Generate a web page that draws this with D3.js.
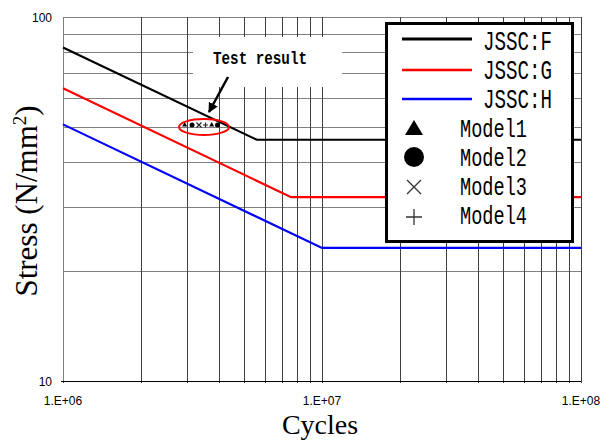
<!DOCTYPE html>
<html><head><meta charset="utf-8">
<script src="https://cdn.jsdelivr.net/npm/d3@7"></script>
<style>body{margin:0;background:#fff}svg{display:block}</style>
</head><body>
<script>
// ---- data ----
const seriesNames = ["JSSC:F", "JSSC:G", "JSSC:H"];
const seriesColors = ["#000000", "#ff0000", "#0000ff"];
const fCycles = [1e6, 5.6e6, 1e8];
const fStress = [82.5, 46, 46];
const gCycles = [1e6, 7.6e6, 1e8];
const gStress = [63.7, 32, 32];
const hCycles = [1e6, 1e7, 1e8];
const hStress = [50.7, 23.2, 23.2];
const modelNames = ["Model1", "Model2", "Model3", "Model4"];
const testCycles = [2.95e6, 3.15e6, 3.35e6, 3.55e6, 3.75e6, 3.95e6];
const testStress = [50.5, 50.5, 50.5, 50.5, 50.5, 50.5];
const testModel = [0, 1, 2, 3, 0, 1];
const xTickValues = [1e6, 1e7, 1e8];
const xTickLabels = ["1.E+06", "1.E+07", "1.E+08"];
const yTickValues = [10, 100];
const yTickLabels = ["10", "100"];
const xLabel = "Cycles";
const yLabel = "Stress (N/mm";
const annotation = "Test result";

const W = 609, H = 441;
const svg = d3.select("body").append("svg").attr("width", W).attr("height", H);
const x = d3.scaleLog().domain([1e6, 1e8]).range([63, 581]);
const y = d3.scaleLog().domain([10, 100]).range([381, 17]);

// grid
const xGrid = [];
for (let d = 1e6; d < 1e8; d *= 10) for (let k = 1; k <= 10; k++) xGrid.push(d * k);
const yGrid = [];
for (let k = 1; k <= 10; k++) yGrid.push(10 * k);
const g = svg.append("g").attr("shape-rendering", "crispEdges");
g.selectAll("line.hg").data(yGrid).join("line")
  .attr("x1", x(1e6)).attr("x2", x(1e8))
  .attr("y1", d => Math.round(y(d)) + 0.5).attr("y2", d => Math.round(y(d)) + 0.5)
  .attr("stroke", "#808080").attr("stroke-width", 1);
g.selectAll("line.vg").data(xGrid).join("line")
  .attr("y1", y(100)).attr("y2", y(10) + 2)
  .attr("x1", d => Math.round(x(d)) + 0.5).attr("x2", d => Math.round(x(d)) + 0.5)
  .attr("stroke", "#404040").attr("stroke-width", 1);
// axis lines
g.append("line").attr("x1", x(1e6) + 0.5).attr("x2", x(1e6) + 0.5).attr("y1", y(100)).attr("y2", y(10) + 1)
  .attr("stroke", "#808080");
g.append("line").attr("x1", x(1e6) - 2).attr("x2", x(1e8)).attr("y1", Math.round(y(10)) + 0.5).attr("y2", Math.round(y(10)) + 0.5)
  .attr("stroke", "#000");

// white box behind annotation
svg.append("rect").attr("x", 193).attr("y", 37).attr("width", 149).attr("height", 50).attr("fill", "#fff");

// tick labels
svg.selectAll("text.xt").data(xTickValues).join("text")
  .attr("x", d => x(d)).attr("y", 405).attr("text-anchor", "middle")
  .attr("font-family", "Liberation Sans, Arial, sans-serif").attr("font-size", 12)
  .text((d, i) => xTickLabels[i]);
svg.selectAll("text.yt").data(yTickValues).join("text")
  .attr("x", 52).attr("y", d => y(d) + 5).attr("text-anchor", "end")
  .attr("font-family", "Liberation Sans, Arial, sans-serif").attr("font-size", 12)
  .text((d, i) => yTickLabels[i]);

// axis titles
svg.append("text").attr("x", 320).attr("y", 434).attr("text-anchor", "middle")
  .attr("font-family", "Liberation Serif, Times New Roman, serif").attr("font-size", 28)
  .text(xLabel);
const yl = svg.append("text").attr("transform", "translate(37,201) rotate(-90)").attr("text-anchor", "middle")
  .attr("font-family", "Liberation Serif, Times New Roman, serif").attr("font-size", 31);
yl.append("tspan").text(yLabel);
yl.append("tspan").attr("dy", -11).attr("font-size", 19).text("2");
yl.append("tspan").attr("dy", 11).text(")");

// series lines
const line = d3.line().x(d => x(d[0])).y(d => y(d[1]));
const series = [
  d3.zip(fCycles, fStress),
  d3.zip(gCycles, gStress),
  d3.zip(hCycles, hStress)
];
svg.selectAll("path.s").data(series).join("path")
  .attr("d", line).attr("fill", "none")
  .attr("stroke", (d, i) => seriesColors[i]).attr("stroke-width", 2.2);

// test markers
function marker(sel, type, s) {
  if (type === 0) sel.append("path").attr("d", d3.symbol(d3.symbolTriangle, s * s * 0.45)()).attr("fill", "#000");
  else if (type === 1) sel.append("circle").attr("r", s / 2).attr("fill", "#000");
  else if (type === 2) sel.append("path").attr("d", `M${-s/2},${-s/2}L${s/2},${s/2}M${-s/2},${s/2}L${s/2},${-s/2}`).attr("stroke", "#222").attr("stroke-width", 1.2);
  else sel.append("path").attr("d", `M${-s/2},0L${s/2},0M0,${-s/2}L0,${s/2}`).attr("stroke", "#222").attr("stroke-width", 1.2);
}
testCycles.forEach((c, i) => {
  const mg = svg.append("g").attr("transform", `translate(${x(c)},${y(testStress[i])})`);
  marker(mg, testModel[i], 5);
});

// ellipse + annotation
svg.append("ellipse").attr("cx", 204).attr("cy", 127).attr("rx", 25).attr("ry", 8)
  .attr("fill", "none").attr("stroke", "#ff0000").attr("stroke-width", 2);
svg.append("defs").append("marker").attr("id", "ah").attr("viewBox", "0 0 10 10")
  .attr("refX", 9).attr("refY", 5).attr("markerWidth", 4).attr("markerHeight", 4).attr("orient", "auto")
  .append("path").attr("d", "M0,0L10,5L0,10Z").attr("fill", "#000");
svg.append("line").attr("x1", 228).attr("y1", 77).attr("x2", 209).attr("y2", 112)
  .attr("stroke", "#000").attr("stroke-width", 2.5).attr("marker-end", "url(#ah)");
svg.append("text").attr("x", 213).attr("y", 64)
  .attr("font-family", "Liberation Mono, Courier New, monospace").attr("font-weight", "bold").attr("font-size", 18)
  .attr("textLength", 94).attr("lengthAdjust", "spacingAndGlyphs").text(annotation);

// legend
const lg = svg.append("g");
lg.append("rect").attr("x", 386.5).attr("y", 23.5).attr("width", 186).attr("height", 218)
  .attr("fill", "#fff").attr("stroke", "#000").attr("stroke-width", 3);
const lineRowY = [39, 70, 99];
const lineTextY = [50, 79, 108];
seriesNames.forEach((n, i) => {
  lg.append("line").attr("x1", 402).attr("x2", 472).attr("y1", lineRowY[i]).attr("y2", lineRowY[i])
    .attr("stroke", seriesColors[i]).attr("stroke-width", i === 0 ? 3 : 2.5);
  lg.append("text").attr("x", 483).attr("y", lineTextY[i])
    .attr("font-family", "Liberation Mono, Courier New, monospace").attr("font-size", 28)
    .attr("textLength", 69).attr("lengthAdjust", "spacingAndGlyphs").text(n);
});
const modelRowY = [128, 157, 187, 217];
const modelTextY = [137, 166, 195, 224];
modelNames.forEach((n, i) => {
  const mg = lg.append("g").attr("transform", `translate(414,${modelRowY[i]})`);
  if (i === 0) mg.append("path").attr("d", "M0,-8L9,7L-9,7Z").attr("fill", "#000");
  else if (i === 1) mg.append("circle").attr("r", 10).attr("fill", "#000");
  else if (i === 2) mg.append("path").attr("d", "M-7,-7L7,7M-7,7L7,-7").attr("stroke", "#333").attr("stroke-width", 1.3);
  else mg.append("path").attr("d", "M-8,0L8,0M0,-8L0,8").attr("stroke", "#333").attr("stroke-width", 1.3);
  lg.append("text").attr("x", 460).attr("y", modelTextY[i])
    .attr("font-family", "Liberation Mono, Courier New, monospace").attr("font-size", 26)
    .attr("textLength", 67).attr("lengthAdjust", "spacingAndGlyphs").text(n);
});
</script>
</body></html>
